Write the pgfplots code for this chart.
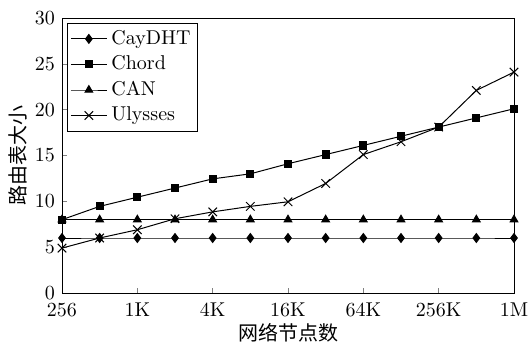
\documentclass[border=0pt]{standalone}
\usepackage{pgfplots}
\pgfplotsset{compat=1.18}
\usepackage{fontspec}
\newfontfamily\cjk{Noto Sans CJK SC}
\begin{document}
\begin{tikzpicture}
\begin{axis}[
  scale only axis,
  width=226pt, height=137.5pt,
  xmin=0, xmax=12, ymin=0, ymax=30,
  xtick={0,2,4,6,8,10,12},
  xticklabels={256,1K,4K,16K,64K,256K,1M},
  ytick={0,5,10,15,20,25,30},
  tick pos=left,
  tick align=inside,
  major tick length=2.5pt,
  xticklabel style={yshift=-1.5pt},
  xlabel={\cjk 网络节点数},
  ylabel={\cjk 路由表大小},
  xlabel style={at={(axis description cs:0.5,-0.145)}, anchor=center},
  ylabel style={at={(axis description cs:-0.0973,0.5)}, anchor=center},
  legend style={at={(axis description cs:0.011,0.982)}, anchor=north west, draw=black, fill=white,
    inner sep=1.5pt, row sep=0.2pt, font=\normalsize},
  legend cell align=left,
  legend image code/.code={\draw[mark repeat=2,mark phase=2,#1] plot coordinates {(0pt,0pt)(9pt,0pt)(18pt,0pt)};},
  every axis plot/.append style={black, line width=0.5pt},
]
\addplot[mark=diamond*, mark size=2.2pt] coordinates {(0,6)(1,6)(2,6)(3,6)(4,6)(5,6)(6,6)(7,6)(8,6)(9,6)(10,6)(11,6)(12,6)};
\addlegendentry{CayDHT}
\addplot[mark=square*, mark size=1.8pt] coordinates {(0,8)(1,9.45)(2,10.45)(3,11.45)(4,12.45)(5,13)(6,14.1)(7,15.1)(8,16.1)(9,17.1)(10,18.1)(11,19.1)(12,20.1)};
\addlegendentry{Chord}
\addplot[mark=triangle*, mark size=2.2pt] coordinates {(0,8)(1,8)(2,8)(3,8)(4,8)(5,8)(6,8)(7,8)(8,8)(9,8)(10,8)(11,8)(12,8)};
\addlegendentry{CAN}
\addplot[mark=x, mark size=3pt] coordinates {(0,4.9)(1,6)(2,6.9)(3,8.1)(4,8.85)(5,9.45)(6,9.95)(7,11.95)(8,15.1)(9,16.5)(10,18.1)(11,22.1)(12,24.1)};
\addlegendentry{Ulysses}
\end{axis}
\pgfresetboundingbox
\path (current axis.south west) ++(-31pt,-24.5pt) coordinate (bbA);
\path (current axis.north east) ++(7.5pt,9pt) coordinate (bbB);
\useasboundingbox (bbA) rectangle (bbB);
\end{tikzpicture}
\end{document}
